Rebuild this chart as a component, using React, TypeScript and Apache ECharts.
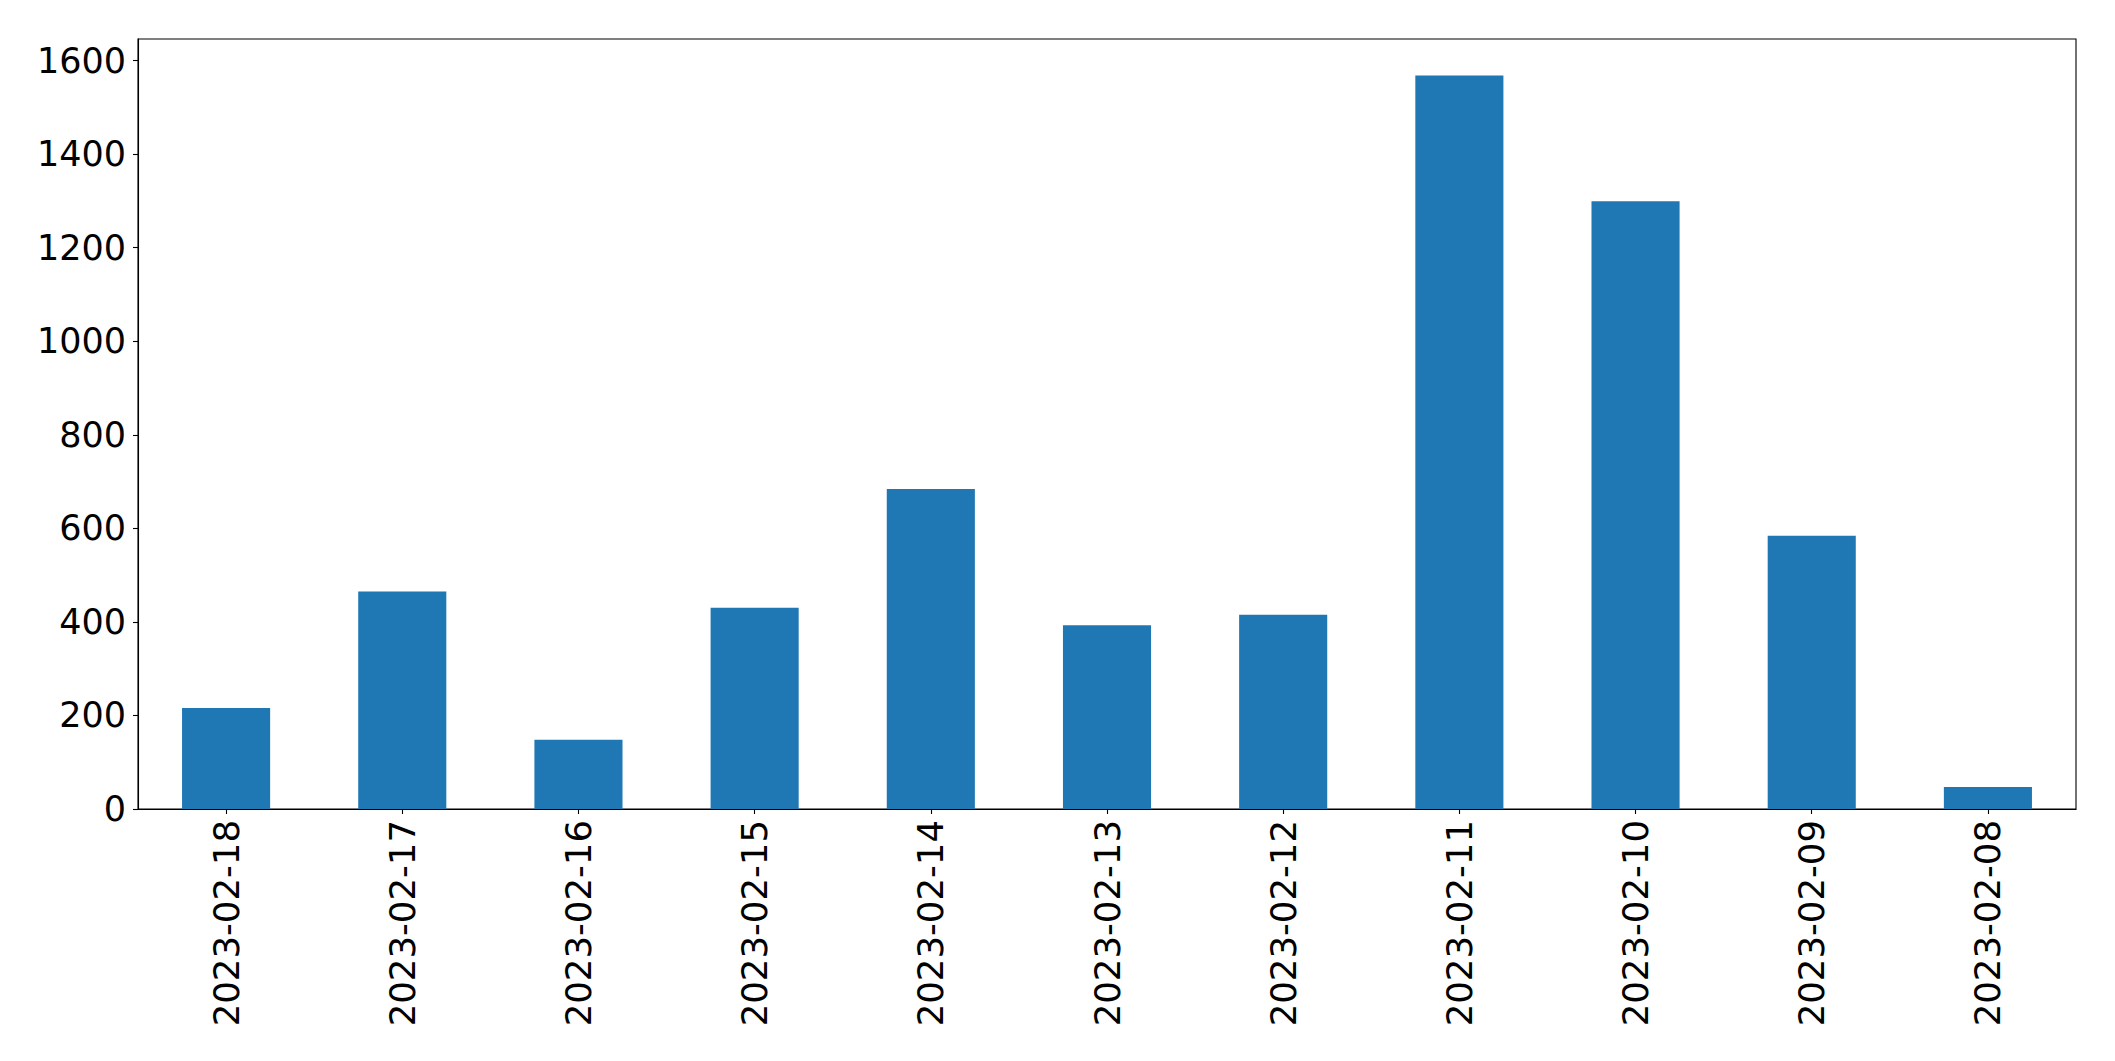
import React, { useEffect, useRef } from "react";
import * as echarts from "echarts";

const categories = [
  "2023-02-18",
  "2023-02-17",
  "2023-02-16",
  "2023-02-15",
  "2023-02-14",
  "2023-02-13",
  "2023-02-12",
  "2023-02-11",
  "2023-02-10",
  "2023-02-09",
  "2023-02-08",
];
const counts = [216, 465, 148, 430, 684, 393, 415, 1568, 1299, 584, 47];
const yTicks = [0, 200, 400, 600, 800, 1000, 1200, 1400, 1600];
const yMax = 1646;

export default function App() {
  const ref = useRef<HTMLDivElement>(null);
  useEffect(() => {
    document.body.style.margin = "0";
    const chart = echarts.init(ref.current!, null, { renderer: "svg" });
    const font = "DejaVu Sans";
    chart.setOption({
      animation: false,
      backgroundColor: "#ffffff",
      grid: {
        left: 138,
        right: 39,
        top: 39,
        bottom: 252,
        show: true,
        borderColor: "#000000",
        borderWidth: 1.1,
        backgroundColor: "transparent",
      },
      xAxis: {
        type: "category",
        data: categories,
        boundaryGap: true,
        axisLine: { show: true, lineStyle: { color: "#000000", width: 1.1 } },
        axisTick: { show: true, alignWithLabel: true, length: 5, lineStyle: { color: "#000000", width: 1.1 } },
        axisLabel: {
          rotate: 90,
          margin: 11,
          color: "#000000",
          fontFamily: font,
          fontSize: 35.5,
          interval: 0,
        },
        splitLine: { show: false },
      },
      yAxis: {
        type: "value",
        min: 0,
        max: yMax,
        interval: 200,
        axisLine: { show: true, lineStyle: { color: "#000000", width: 1.1 } },
        axisTick: { show: true, length: 5, customValues: yTicks, lineStyle: { color: "#000000", width: 1.1 } },
        axisLabel: {
          margin: 12,
          color: "#000000",
          fontFamily: font,
          fontSize: 35,
          customValues: yTicks,
          formatter: (v: number) => String(v),
        },
        splitLine: { show: false },
      },
      series: [
        {
          type: "bar",
          data: counts,
          barWidth: "50%",
          itemStyle: { color: "#1f77b4" },
        },
      ],
    });
    return () => chart.dispose();
  }, []);
  return <div ref={ref} style={{ width: 2115, height: 1061 }} />;
}
